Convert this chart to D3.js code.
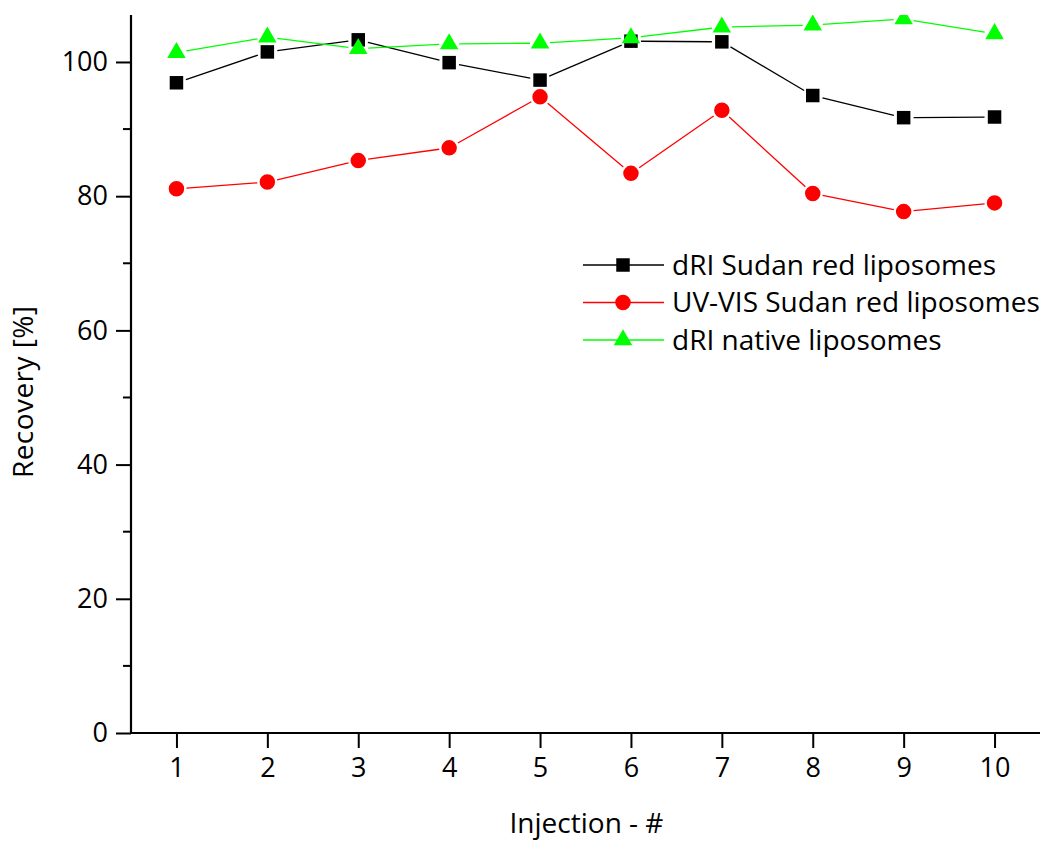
<!DOCTYPE html>
<html>
<head>
<meta charset="utf-8">
<script src="https://cdn.jsdelivr.net/npm/d3@7"></script>
<style>
  html, body { margin: 0; padding: 0; background: #fff; }
  svg { display: block; font-family: "Open Sans", "Noto Sans", sans-serif; }
</style>
</head>
<body>
<svg id="chart" width="1042" height="841"></svg>
<script>
// Injection number on the x axis
const injections = [1, 2, 3, 4, 5, 6, 7, 8, 9, 10];

// Recovery [%] per injection
const dRISudanRed   = [96.9, 101.5, 103.3, 99.9, 97.3, 103.1, 103.0, 95.0, 91.7, 91.8];
const uvVisSudanRed = [81.1, 82.1, 85.3, 87.2, 94.8, 83.4, 92.8, 80.4, 77.7, 79.0];
const dRINative     = [101.4, 103.7, 102.0, 102.7, 102.8, 103.6, 105.2, 105.5, 106.4, 104.2];

const seriesNames = ["dRI Sudan red liposomes", "UV-VIS Sudan red liposomes", "dRI native liposomes"];

const yMajorTicks = [0, 20, 40, 60, 80, 100];
const yMinorTicks = [10, 30, 50, 70, 90];

const svg = d3.select("#chart");

const plot = { left: 131, right: 1040, top: 15, bottom: 733 };

const x = d3.scaleLinear().domain([0.5, 10.5]).range([plot.left, plot.right]);
const y = d3.scaleLinear().domain([0, 107]).range([plot.bottom, plot.top]);

const series = [
  { name: seriesNames[0], values: dRISudanRed,   color: "#000000", symbol: d3.symbolSquare,   size: 182, gap: 10 },
  { name: seriesNames[1], values: uvVisSudanRed, color: "#ff0000", symbol: d3.symbolCircle,   size: 189, gap: 10 },
  { name: seriesNames[2], values: dRINative,     color: "#00ff00", symbol: d3.symbolTriangle, size: 148, gap: 10 }
];

// clip marks to the plotting frame
svg.append("defs").append("clipPath").attr("id", "plot-clip")
  .append("rect")
  .attr("x", plot.left).attr("y", plot.top)
  .attr("width", plot.right - plot.left).attr("height", plot.bottom - plot.top);

const marks = svg.append("g").attr("clip-path", "url(#plot-clip)");

series.forEach(s => {
  const pts = s.values.map((v, i) => [x(injections[i]), y(v)]);
  const g = marks.append("g");
  // connecting segments, stopping short of each symbol
  for (let i = 0; i < pts.length - 1; i++) {
    const [x0, y0] = pts[i], [x1, y1] = pts[i + 1];
    const len = Math.hypot(x1 - x0, y1 - y0);
    const ux = (x1 - x0) / len, uy = (y1 - y0) / len;
    g.append("line")
      .attr("x1", x0 + ux * s.gap).attr("y1", y0 + uy * s.gap)
      .attr("x2", x1 - ux * s.gap).attr("y2", y1 - uy * s.gap)
      .attr("stroke", s.color).attr("stroke-width", 1.3);
  }
  g.selectAll("path.sym")
    .data(pts)
    .join("path")
    .attr("class", "sym")
    .attr("transform", d => `translate(${d[0]},${d[1]})`)
    .attr("d", d3.symbol().type(s.symbol).size(s.size))
    .attr("fill", s.color);
});

// axes
const tickFont = 27;

const yAxis = d3.axisLeft(y).tickValues(yMajorTicks).tickSize(15).tickPadding(8).tickFormat(d3.format("d"));
const yG = svg.append("g").attr("transform", `translate(${plot.left},0)`).call(yAxis);
yG.select(".domain").remove();
yG.selectAll(".tick line").attr("stroke", "#000").attr("stroke-width", 2);
yG.selectAll(".tick text").attr("font-size", tickFont).attr("fill", "#000")
  .attr("font-family", "Open Sans, Noto Sans, sans-serif");

svg.append("g").selectAll("line")
  .data(yMinorTicks)
  .join("line")
  .attr("x1", plot.left - 8).attr("x2", plot.left)
  .attr("y1", d => y(d)).attr("y2", d => y(d))
  .attr("stroke", "#000").attr("stroke-width", 2);

const xAxis = d3.axisBottom(x).tickValues(injections).tickSize(15).tickPadding(10).tickFormat(d3.format("d"));
const xG = svg.append("g").attr("transform", `translate(0,${plot.bottom})`).call(xAxis);
xG.select(".domain").remove();
xG.selectAll(".tick line").attr("stroke", "#000").attr("stroke-width", 2);
xG.selectAll(".tick text").attr("font-size", tickFont).attr("fill", "#000")
  .attr("font-family", "Open Sans, Noto Sans, sans-serif");

// axis lines
svg.append("line")
  .attr("x1", plot.left).attr("x2", plot.left)
  .attr("y1", plot.top).attr("y2", plot.bottom + 1)
  .attr("stroke", "#000").attr("stroke-width", 2.2);
svg.append("line")
  .attr("x1", plot.left - 1).attr("x2", plot.right)
  .attr("y1", plot.bottom).attr("y2", plot.bottom)
  .attr("stroke", "#000").attr("stroke-width", 2.2);

// axis titles
svg.append("text")
  .attr("x", (plot.left + plot.right) / 2 + 1).attr("y", 833)
  .attr("text-anchor", "middle").attr("font-size", 28)
  .text("Injection - #");

svg.append("text")
  .attr("transform", `translate(33,392) rotate(-90)`)
  .attr("text-anchor", "middle").attr("font-size", 28)
  .attr("textLength", 172).attr("lengthAdjust", "spacing")
  .text("Recovery [%]");

// legend
const legend = svg.append("g");
series.forEach((s, i) => {
  const ly = 265 + i * 37.5;
  legend.append("line")
    .attr("x1", 583).attr("x2", 664)
    .attr("y1", ly).attr("y2", ly)
    .attr("stroke", s.color).attr("stroke-width", 1.3);
  legend.append("path")
    .attr("transform", `translate(623,${ly})`)
    .attr("d", d3.symbol().type(s.symbol).size(s.size))
    .attr("fill", s.color);
  legend.append("text")
    .attr("x", 672).attr("y", ly)
    .attr("dy", "0.35em")
    .attr("font-size", 28)
    .text(s.name);
});
</script>
</body>
</html>
